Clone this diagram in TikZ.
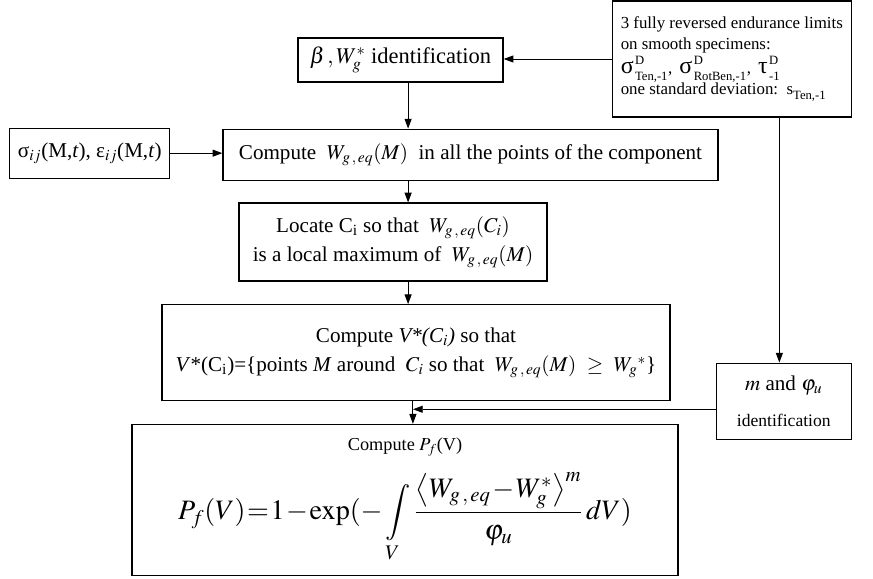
\documentclass[tikz,border=0pt]{standalone}
\usepackage{amsmath}
\usepackage{mathptmx}
\usepackage{fontspec}
\setmainfont{Liberation Serif}
\usepackage{tikz}
\usetikzlibrary{arrows.meta, positioning}
\tikzset{
  block/.style={
    draw, rectangle,
    fill=white, font=\fontsize{15}{18}\selectfont, align=center,
    line width=0.9pt, inner sep=2pt
  },
  wire/.style={-{Triangle[length=7pt, width=5pt]}, line width=0.7pt}
}

\begin{document}
\begin{tikzpicture}[node distance=0.6cm and 1.3cm]
  \useasboundingbox (0,0) rectangle (21.825,-14.475);

  % Identification of the material parameters
  \node[block, minimum width=5.125cm, minimum height=1.1cm,
        font=\fontsize{16}{19}\selectfont] (beta) at (10.0125,-1.5)
        {$\beta\,,W^{*}_{g}$ identification};
  \node[block, right=2.7cm of beta, yshift=0.025cm,
        minimum width=5.975cm, minimum height=2.9cm,
        align=left, font=\fontsize{12}{15}\selectfont] (lim)
        {3 fully reversed endurance limits\\
         on smooth specimens:\\[1pt]
         {\fontsize{17}{20}\selectfont σ}${\vphantom{\big|}}^{\,\text{D}}_{\,\text{Ten,-1}}$,\,
         {\fontsize{17}{20}\selectfont σ}${\vphantom{\big|}}^{\,\text{D}}_{\,\text{RotBen,-1}}$,\,
         {\fontsize{17}{20}\selectfont τ}${\vphantom{\big|}}^{\,\text{D}}_{\,\text{-1}}$\\
         one standard deviation:\ \ s${\vphantom{|}}_{\text{Ten,-1}}$};

  % Main column
  \node[block, below=1.15cm of beta, xshift=1.75cm,
        minimum width=12.375cm, minimum height=1.275cm] (weq)
        {Compute\ \ $W_{g\,,\,eq}(M)$\ \ in all the points of the component};
  \node[block, left=1.3cm of weq, yshift=0.04cm,
        minimum width=4cm, minimum height=1.25cm] (stress)
        {σ$_{ij}$(M,\textit{t}), ε$_{ij}$(M,\textit{t})};
  \node[block, below=0.54cm of weq, xshift=-1.9375cm,
        minimum width=7.7cm, minimum height=1.95cm] (loc)
        {Locate C$_{\text{i}}$ so that\ \ $W_{g\,,\,eq}(C_{i})$\\[3pt]
         is a local maximum of\ \ $W_{g\,,\,eq}(M)$};
  \node[block, below=0.56cm of loc, xshift=0.575cm,
        minimum width=12.7cm, minimum height=2.4cm] (vstar)
        {Compute \textit{V*(C$_{i}$)} so that\\[3pt]
         \textit{V}*(C$_{\text{i}}$)=\{points \textit{M} around\ \ $C_{i}$ so that\ \ $W_{g\,,\,eq}(M)$\ \ $\geq$\ \ $W_{g}{}^{*}$\}};
  \node[block, below=0.56cm of vstar, xshift=-0.275cm,
        minimum width=13.65cm, minimum height=3.775cm, inner sep=0pt] (pf)
        {{\fontsize{13}{16}\selectfont Compute $P_{f}$(V)}\\[11pt]
         {\fontsize{20}{24}\selectfont \thickmuskip=1mu \medmuskip=1mu
          $\displaystyle P_{f}(V)=1-\exp(-\int\limits_{V}\frac{\big\langle W_{g\,,\,eq}-W^{*}_{g}\big\rangle^{m}}{\varphi_{u}}\,dV)$}};

  % Weibull parameters
  \node[block, below=6.125cm of lim, xshift=1.3cm,
        minimum width=3.375cm, minimum height=1.9cm] (mphi)
        {$m$ and $\varphi_{u}$\\[8pt]{\fontsize{12.5}{15}\selectfont identification}};

  % Helper points
  \coordinate (spine) at ([xshift=0.19cm]beta.south);
  \coordinate (drop)  at ([xshift=0.31cm]beta.south);
  \coordinate (tap)   at ([xshift=-0.11cm]mphi.north);
  \coordinate (join)  at ([yshift=-0.2cm]mphi.west -| drop);

  % Wires
  \draw[wire] (lim.west) -- (lim.west -| beta.east);
  \draw[wire] (stress.east) -- (stress.east -| weq.west);
  \draw[wire] (beta.south -| spine) -- (weq.north -| spine);
  \draw[wire] (weq.south -| spine) -- (loc.north -| spine);
  \draw[wire] (loc.south -| spine) -- (vstar.north -| spine);
  \draw[wire] (vstar.south -| drop) -- (pf.north -| drop);
  \draw[wire] (lim.south -| tap) -- (tap);
  \draw[wire] ([yshift=-0.2cm]mphi.west) -- (join);
\end{tikzpicture}
\end{document}
